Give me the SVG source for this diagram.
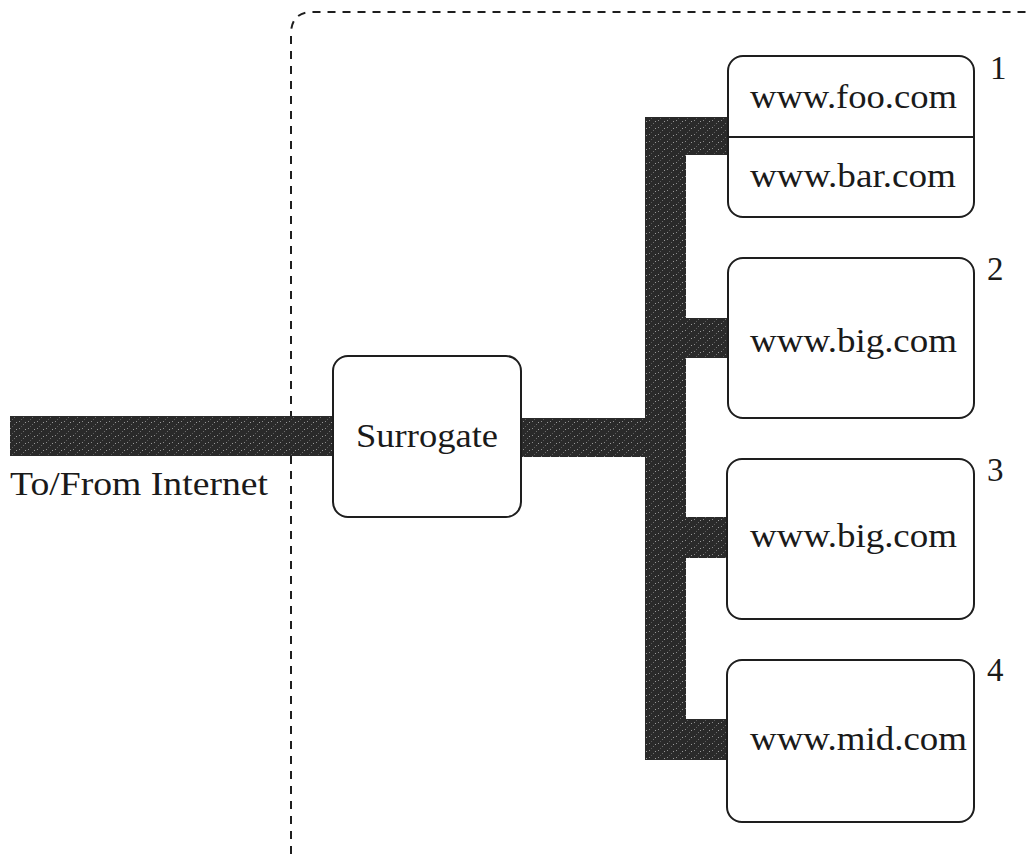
<svg xmlns="http://www.w3.org/2000/svg" width="1028" height="854" viewBox="0 0 1028 854">
<defs>
<pattern id="speck" width="9" height="7" patternUnits="userSpaceOnUse">
<rect width="9" height="7" fill="#2a2a2a"/>
<rect x="1" y="1" width="1" height="1" fill="#8a8a8a"/>
<rect x="5" y="4" width="1" height="1" fill="#6e6e6e"/>
<rect x="7" y="2" width="1" height="1" fill="#9a9a9a"/>
<rect x="3" y="6" width="1" height="1" fill="#5a5a5a"/>
</pattern>
</defs>
<style>
.box{fill:#fff;stroke:#1e1e1e;stroke-width:2}
.lbl{font-family:"Liberation Serif","Times New Roman",serif;font-size:33px;fill:#1a1a1a}
.num{font-family:"Liberation Serif","Times New Roman",serif;font-size:33px;fill:#1a1a1a}
.bar{fill:url(#speck)}
.bound{fill:none;stroke:#1e1e1e;stroke-width:2;stroke-dasharray:8 7}
</style>
<rect width="1028" height="854" fill="#fff"/>
<path id="boundary" class="bound" d="M291,854 V34 Q291,12 313,12 H1028"/>
<g id="connectors">
<rect class="bar" x="10" y="416" width="325" height="40"/>
<rect class="bar" x="519" y="418" width="128" height="39"/>
<rect class="bar" x="645" y="117" width="41" height="643"/>
<rect class="bar" x="645" y="117" width="85" height="38"/>
<rect class="bar" x="685" y="318" width="45" height="40"/>
<rect class="bar" x="685" y="517" width="45" height="41"/>
<rect class="bar" x="685" y="719" width="45" height="41"/>
</g>
<text class="lbl" x="10" y="495" textLength="258" lengthAdjust="spacingAndGlyphs">To/From Internet</text>
<g id="surrogate">
<rect class="box" x="333" y="356" width="188" height="161" rx="15"/>
<text class="lbl" x="356" y="447" textLength="142" lengthAdjust="spacingAndGlyphs">Surrogate</text>
</g>
<g id="server1">
<rect class="box" x="728" y="56" width="246" height="161" rx="15"/>
<line x1="728" y1="137" x2="974" y2="137" stroke="#1e1e1e" stroke-width="2"/>
<text class="lbl" x="750" y="108" textLength="207" lengthAdjust="spacingAndGlyphs">www.foo.com</text>
<text class="lbl" x="750" y="187" textLength="206" lengthAdjust="spacingAndGlyphs">www.bar.com</text>
<text class="num" x="990" y="79">1</text>
</g>
<g id="server2">
<rect class="box" x="728" y="258" width="246" height="160" rx="15"/>
<text class="lbl" x="750" y="352" textLength="207" lengthAdjust="spacingAndGlyphs">www.big.com</text>
<text class="num" x="987" y="280">2</text>
</g>
<g id="server3">
<rect class="box" x="727" y="459" width="247" height="160" rx="15"/>
<text class="lbl" x="750" y="547" textLength="207" lengthAdjust="spacingAndGlyphs">www.big.com</text>
<text class="num" x="987" y="481">3</text>
</g>
<g id="server4">
<rect class="box" x="727" y="660" width="247" height="162" rx="15"/>
<text class="lbl" x="750" y="750" textLength="217" lengthAdjust="spacingAndGlyphs">www.mid.com</text>
<text class="num" x="987" y="681">4</text>
</g>
</svg>
